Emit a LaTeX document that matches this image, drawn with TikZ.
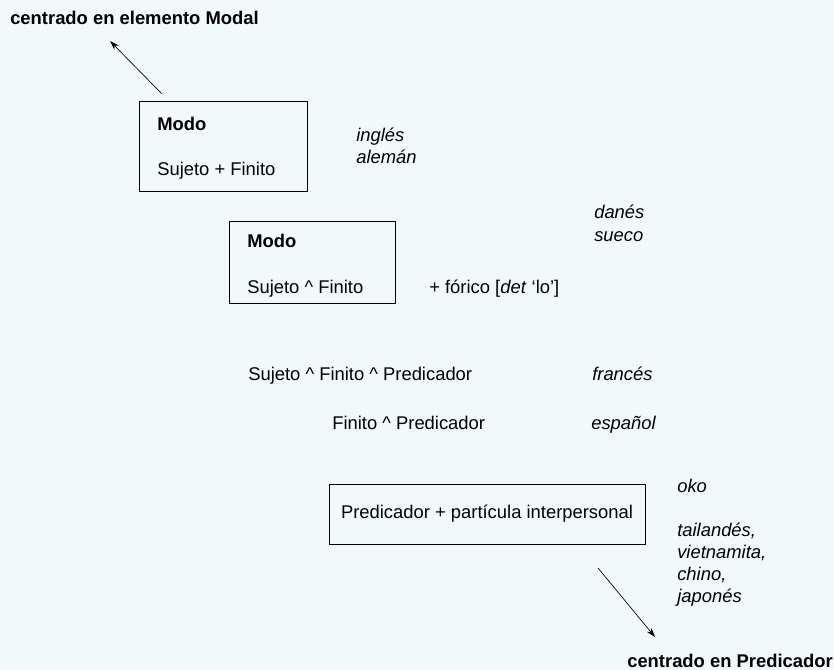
\documentclass[tikz,border=0pt]{standalone}
\usepackage{fontspec}
\setmainfont{Liberation Sans}
\usetikzlibrary{arrows.meta,positioning}
\usepackage{xcolor}
\definecolor{fondo}{RGB}{242,249,250}

\begin{document}
\begin{tikzpicture}[x=0.75pt,y=-0.75pt,
    texto/.style={anchor=base west,inner sep=0pt,font=\fontsize{13.8}{16}\selectfont},
    negrita/.style={texto,font=\fontsize{13.8}{16}\selectfont\bfseries},
    lengua/.style={texto,font=\fontsize{13.8}{16}\selectfont\itshape},
    caja/.style={draw,line width=0.65pt,inner sep=0pt},
    flecha/.style={-{Stealth[length=7pt,width=4.5pt]},line width=0.5pt}]
    \fill[fondo] (0,0) rectangle (834,670);
    \useasboundingbox (0,0) rectangle (834,670);

    % Extremos
    \node[negrita] (modal) at (10,25) {centrado en elemento Modal};
    \node[negrita] (predicador) at (627,667) {centrado en Predicador};

    % Cajas
    \node[caja,minimum width=168*0.75pt,minimum height=90*0.75pt] (modo1) at (223,146) {};
    \node[caja,minimum width=166*0.75pt,minimum height=82*0.75pt] (modo2) at (312,262) {};
    \node[caja,minimum width=316*0.75pt,minimum height=60*0.75pt,
          font=\fontsize{13.8}{16}\selectfont] (particula) at (487,514)
          {Predicador + partícula interpersonal};

    \node[negrita] (modo1t) at (157,131) {Modo};
    \node[texto] (sujeto1) at (157,176) {Sujeto + Finito};
    \node[negrita] (modo2t) at (247,247) {Modo};
    \node[texto] (sujeto2) at (247,293) {Sujeto \textasciicircum{} Finito};
    \node[texto] (forico) at (429,293) {+ fórico [\textit{det} ‘lo’]};
    \node[texto] (sfp) at (248,380) {Sujeto \textasciicircum{} Finito \textasciicircum{} Predicador};
    \node[texto] (fp) at (332,429) {Finito \textasciicircum{} Predicador};

    % Lenguas
    \node[lengua] (ingles) at (356,142) {inglés};
    \node[lengua] (aleman) at (356,164) {alemán};
    \node[lengua] (danes) at (594,219) {danés};
    \node[lengua] (sueco) at (594,242) {sueco};
    \node[lengua] (frances) at (592,380) {francés};
    \node[lengua] (espanol) at (591,429) {español};
    \node[lengua] (oko) at (677,492) {oko};
    \node[lengua] (tailandes) at (677,536) {tailandés,};
    \node[lengua] (vietnamita) at (677,558) {vietnamita,};
    \node[lengua] (chino) at (677,580) {chino,};
    \node[lengua] (japones) at (677,602) {japonés};

    % Flechas
    \coordinate (ini1) at (162,94);
    \coordinate (fin1) at (110,41);
    \coordinate (ini2) at (598,568);
    \coordinate (fin2) at (655,637);
    \draw[flecha] (ini1) -- (fin1);
    \draw[flecha] (ini2) -- (fin2);
\end{tikzpicture}
\end{document}
